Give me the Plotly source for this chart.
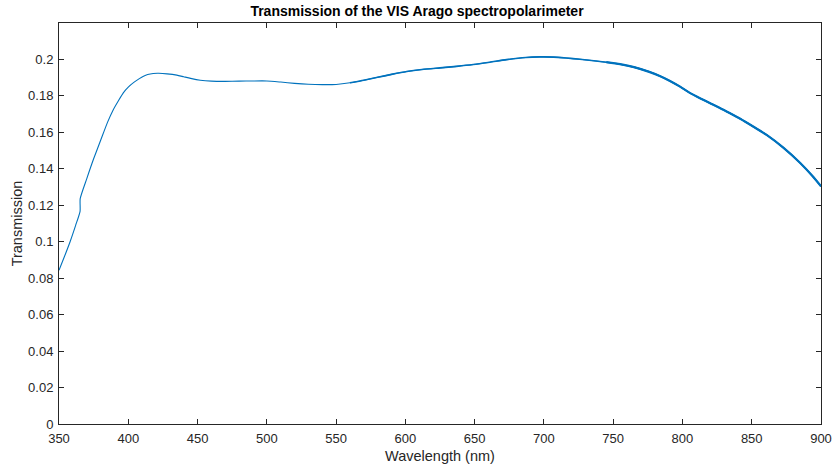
import plotly.graph_objects as go

# Measured transmission of the VIS Arago spectropolarimeter
wavelength_nm = [
    350, 354, 358, 362, 365.2, 365.3, 370, 375, 380, 385, 389, 393,
    396.4, 400, 404, 408, 411, 414, 418, 422, 428, 435, 440, 445, 452, 460,
    470, 480, 490, 500, 510, 520, 530, 540, 550, 560, 570, 580, 590, 601,
    612, 625, 637, 649, 661, 673, 687, 697, 707, 716, 726, 736, 745, 755, 765,
    776, 784, 791, 798, 805, 813, 820, 827, 834, 842, 851, 861, 873, 885,
    894, 900,
]
transmission = [
    0.0843, 0.0920, 0.1000, 0.1090, 0.1167, 0.1236, 0.1345, 0.1455,
    0.1555, 0.1655, 0.1722, 0.1775, 0.1817, 0.1848, 0.1874, 0.1895,
    0.1908, 0.1917, 0.1923, 0.1924, 0.1921, 0.1914, 0.1905, 0.1896, 0.1886,
    0.1881, 0.1880, 0.1881, 0.1882, 0.1882, 0.1876, 0.1869, 0.1864, 0.1862,
    0.1863, 0.1872, 0.1886, 0.1902, 0.1918, 0.1934, 0.1945, 0.1954,
    0.1962, 0.1972, 0.1985, 0.1999, 0.2011, 0.2014, 0.2013, 0.2008, 0.2001,
    0.1993, 0.1985, 0.1974, 0.1958, 0.1932, 0.1908, 0.1882, 0.1852,
    0.1818, 0.1786, 0.1760, 0.1734, 0.1706, 0.1673, 0.1632, 0.1585, 0.1515,
    0.1432, 0.1359, 0.1304,
]

x_ticks = [350, 400, 450, 500, 550, 600, 650, 700, 750, 800, 850, 900]
y_ticks = [0, 0.02, 0.04, 0.06, 0.08, 0.1, 0.12, 0.14, 0.16, 0.18, 0.2]
y_tick_text = ["0", "0.02", "0.04", "0.06", "0.08", "0.1", "0.12", "0.14",
               "0.16", "0.18", "0.2"]

blue = "#0072BD"
ink = "#262626"
font = "Liberation Sans, Arial, Helvetica, sans-serif"

fig = go.Figure()
fig.add_trace(go.Scatter(x=wavelength_nm, y=transmission, mode="lines",
                         line=dict(color=blue, width=1.1, shape="spline",
                                   smoothing=0.6),
                         hoverinfo="x+y"))

# The red end of the measurement is noisier, so the trace reads heavier there
for start, width in [(560, 1.6), (740, 2.2)]:
    xs = [w for w in wavelength_nm if w >= start]
    ys = [t for w, t in zip(wavelength_nm, transmission) if w >= start]
    fig.add_trace(go.Scatter(x=xs, y=ys, mode="lines",
                             line=dict(color=blue, width=width, shape="spline",
                                       smoothing=0.6),
                             hoverinfo="skip"))

axis_common = dict(
    showline=True, linecolor=ink, linewidth=1, mirror="ticks",
    ticks="inside", ticklen=5, tickcolor=ink, tickwidth=1,
    showgrid=False, zeroline=False, automargin=False,
    tickfont=dict(family=font, size=13, color=ink),
)

fig.update_layout(
    width=834, height=470,
    margin=dict(l=59, r=13, t=23, b=46),
    paper_bgcolor="white", plot_bgcolor="white",
    showlegend=False,
    title=dict(text="<b>Transmission of the VIS Arago spectropolarimeter</b>",
               x=0.5, xanchor="center", y=1 - 11 / 470, yanchor="middle",
               font=dict(family=font, size=14, color="black")),
    xaxis=dict(range=[350, 900], tickvals=x_ticks, ticklabelstandoff=2,
               title=dict(text="Wavelength (nm)", standoff=6,
                          font=dict(family=font, size=14.5, color=ink)),
               **axis_common),
    yaxis=dict(range=[0, 0.22], tickvals=y_ticks, ticktext=y_tick_text,
               ticklabelstandoff=2,
               title=dict(text="Transmission", standoff=2,
                          font=dict(family=font, size=14.5, color=ink)),
               **axis_common),
)

fig.write_html("out.html")
